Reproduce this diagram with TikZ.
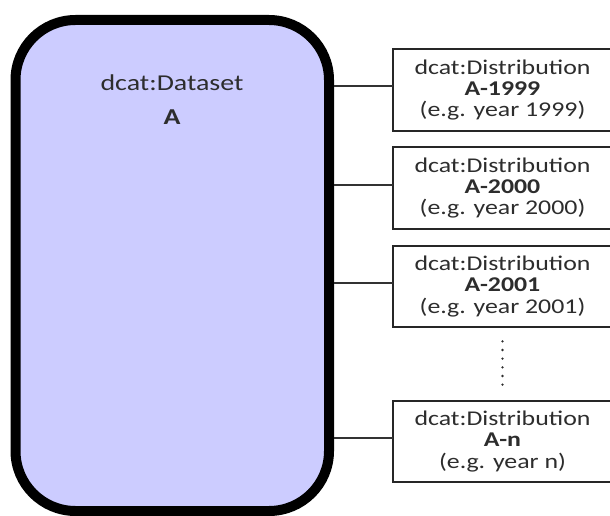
\documentclass[tikz,border=0pt]{standalone}
\usepackage{fontspec}
\setmainfont{Carlito}[FakeStretch=1.23]
\usetikzlibrary{positioning,calc}
\definecolor{datasetfill}{RGB}{204,204,255}
\definecolor{textgray}{RGB}{45,45,45}
\tikzset{
dataset/.style={draw=black, fill=datasetfill, line width=10pt,
rounded corners=60pt, minimum width=313.5pt, minimum height=491pt},
datasettext/.style={align=center, inner sep=0pt, text=textgray,
font=\fontsize{22.7}{33.5}\selectfont},
distbox/.style={draw=black!85, line width=2pt, fill=white,
minimum width=219pt, minimum height=81.5pt, inner sep=0pt, outer sep=0pt,
align=center, text=textgray, font=\fontsize{21}{21.2}\selectfont},
link/.style={draw=black!80, line width=1.8pt}
}

\begin{document}
\begin{tikzpicture}[x=1pt,y=-1pt]
\useasboundingbox (0,0) rectangle (610,516);
\clip (0,0) rectangle (610,516);

\node[dataset] (ds) at (172.25,265.5) {};
\node[datasettext] (dstitle) at (172,99.5) {dcat:Dataset\\\textbf{A}};

\node[distbox] (d1) at (502.5,90)
{dcat:Distribution\\\textbf{A-1999}\\(e.g. year 1999)};
\node[distbox, below=16.7pt of d1] (d2)
{dcat:Distribution\\\textbf{A-2000}\\(e.g. year 2000)};
\node[distbox, below=16.7pt of d2] (d3)
{dcat:Distribution\\\textbf{A-2001}\\(e.g. year 2001)};
\node[distbox, below=73.5pt of d3] (d4)
{dcat:Distribution\\\textbf{A-n}\\(e.g. year n)};

\foreach \n in {d1,d2,d3,d4}{
\coordinate[yshift=3.6pt] (c\n) at (\n.west);
\draw[link] (c\n) -- (c\n -| ds.east);
}

\foreach \i in {0,...,5}
\fill[textgray] ([yshift={-14.2pt-\i*8.66pt}]d3.south) circle (1.3pt);

\end{tikzpicture}
\end{document}
